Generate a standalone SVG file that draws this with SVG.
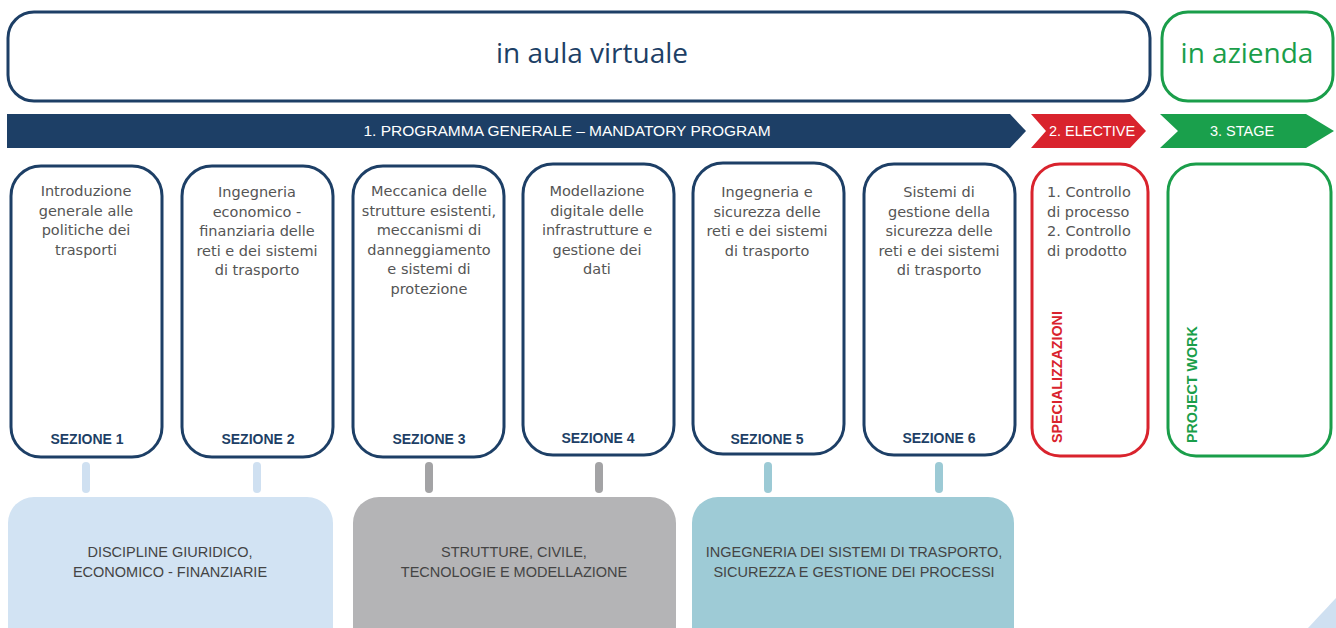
<svg xmlns="http://www.w3.org/2000/svg" width="1336" height="628" viewBox="0 0 1336 628">
<style>
.frame{fill:#fff;stroke-width:3}
.blue{stroke:#1d3f66}
.red{stroke:#d9232d}
.green{stroke:#1a9e4a}
.body{font-family:"DejaVu Sans",sans-serif;font-size:14.5px;fill:#555;text-anchor:middle}
.sez{font-family:"Liberation Sans",Arial,sans-serif;font-size:14px;font-weight:bold;fill:#1d3f66;text-anchor:middle}
.band{font-family:"Liberation Sans",Arial,sans-serif;font-size:15.5px;fill:#fff;text-anchor:middle}
.cat{font-family:"Liberation Sans",Arial,sans-serif;font-size:14.5px;fill:#444;text-anchor:middle}
.head{font-family:"Open Sans","Liberation Sans",sans-serif;font-size:28px;text-anchor:middle}
.vert{font-family:"Liberation Sans",Arial,sans-serif;font-size:14.3px;font-weight:bold}
</style>
<rect width="1336" height="628" fill="#fff"/>

<g id="aula">
<rect x="8" y="12" width="1142" height="89" rx="26" class="frame blue"/>
<text x="592" y="63" class="head" fill="#1d3f66">in aula virtuale</text>
</g>
<g id="azienda">
<rect x="1162" y="12" width="171" height="89" rx="26" class="frame green"/>
<text x="1247" y="63" class="head" fill="#1a9e4a">in azienda</text>
</g>

<g id="band-mandatory">
<polygon points="7,114 1010,114 1026,131 1010,148 7,148" fill="#1d3f66"/>
<text x="567" y="136" class="band">1. PROGRAMMA GENERALE – MANDATORY PROGRAM</text>
</g>
<g id="band-elective">
<polygon points="1031,114 1130,114 1146,131 1130,148 1031,148 1046,131" fill="#d9232d"/>
<text x="1092" y="136" class="band" style="font-size:14.5px">2. ELECTIVE</text>
</g>
<g id="band-stage">
<polygon points="1160,114 1306,114 1334,131 1306,148 1160,148 1178,131" fill="#1aa04c"/>
<text x="1242" y="136" class="band" style="font-size:14.5px">3. STAGE</text>
</g>

<g id="sez1">
<rect x="11" y="166" width="151" height="291" rx="30" class="frame blue"/>
<text class="body"><tspan x="86" y="196">Introduzione</tspan><tspan x="86" y="215.5">generale alle</tspan><tspan x="86" y="235">politiche dei</tspan><tspan x="86" y="254.5">trasporti</tspan></text>
<text x="87" y="444" class="sez">SEZIONE 1</text>
</g>
<g id="sez2">
<rect x="182" y="166" width="151" height="291" rx="30" class="frame blue"/>
<text class="body"><tspan x="257" y="197">Ingegneria</tspan><tspan x="257" y="216.5">economico -</tspan><tspan x="257" y="236">finanziaria delle</tspan><tspan x="257" y="255.5">reti e dei sistemi</tspan><tspan x="257" y="275">di trasporto</tspan></text>
<text x="258" y="444" class="sez">SEZIONE 2</text>
</g>
<g id="sez3">
<rect x="353" y="166" width="151" height="291" rx="30" class="frame blue"/>
<text class="body"><tspan x="429" y="196">Meccanica delle</tspan><tspan x="429" y="215.5">strutture esistenti,</tspan><tspan x="429" y="235">meccanismi di</tspan><tspan x="429" y="254.5">danneggiamento</tspan><tspan x="429" y="274">e sistemi di</tspan><tspan x="429" y="293.5">protezione</tspan></text>
<text x="429" y="444" class="sez">SEZIONE 3</text>
</g>
<g id="sez4">
<rect x="523" y="164" width="151" height="291" rx="30" class="frame blue"/>
<text class="body"><tspan x="597" y="196">Modellazione</tspan><tspan x="597" y="215.5">digitale delle</tspan><tspan x="597" y="235">infrastrutture e</tspan><tspan x="597" y="254.5">gestione dei</tspan><tspan x="597" y="274">dati</tspan></text>
<text x="598" y="443" class="sez">SEZIONE 4</text>
</g>
<g id="sez5">
<rect x="693" y="163" width="151" height="291" rx="30" class="frame blue"/>
<text class="body"><tspan x="767" y="197">Ingegneria e</tspan><tspan x="767" y="216.5">sicurezza delle</tspan><tspan x="767" y="236">reti e dei sistemi</tspan><tspan x="767" y="255.5">di trasporto</tspan></text>
<text x="767" y="444" class="sez">SEZIONE 5</text>
</g>
<g id="sez6">
<rect x="864" y="164" width="151" height="291" rx="30" class="frame blue"/>
<text class="body"><tspan x="939" y="197">Sistemi di</tspan><tspan x="939" y="216.5">gestione della</tspan><tspan x="939" y="236">sicurezza delle</tspan><tspan x="939" y="255.5">reti e dei sistemi</tspan><tspan x="939" y="275">di trasporto</tspan></text>
<text x="939" y="443" class="sez">SEZIONE 6</text>
</g>
<g id="specializzazioni">
<rect x="1032" y="164" width="116" height="292" rx="28" class="frame red"/>
<text class="body" style="text-anchor:start"><tspan x="1047" y="197">1. Controllo</tspan><tspan x="1047" y="216.5">di processo</tspan><tspan x="1047" y="236">2. Controllo</tspan><tspan x="1047" y="255.5">di prodotto</tspan></text>
<text transform="translate(1062,443) rotate(-90)" class="vert" fill="#d9232d">SPECIALIZZAZIONI</text>
</g>
<g id="projectwork">
<rect x="1168" y="164" width="163" height="292" rx="28" class="frame green"/>
<text transform="translate(1197,443) rotate(-90)" class="vert" fill="#1a9e4a">PROJECT WORK</text>
</g>

<g id="connectors">
<rect x="82" y="462" width="8" height="31" rx="4" fill="#cfe0f1"/>
<rect x="253" y="462" width="8" height="31" rx="4" fill="#cfe0f1"/>
<rect x="425" y="462" width="8" height="31" rx="4" fill="#a3a3a5"/>
<rect x="595" y="462" width="8" height="31" rx="4" fill="#a3a3a5"/>
<rect x="764" y="462" width="8" height="31" rx="4" fill="#9ccad5"/>
<rect x="935" y="462" width="8" height="31" rx="4" fill="#9ccad5"/>
</g>

<g id="cat-giuridico">
<rect x="8" y="497" width="325" height="160" rx="26" fill="#d2e3f3"/>
<text class="cat"><tspan x="170" y="557">DISCIPLINE GIURIDICO,</tspan><tspan x="170" y="577">ECONOMICO - FINANZIARIE</tspan></text>
</g>
<g id="cat-strutture">
<rect x="353" y="497" width="323" height="160" rx="26" fill="#b4b4b6"/>
<text class="cat"><tspan x="514" y="557">STRUTTURE, CIVILE,</tspan><tspan x="514" y="577">TECNOLOGIE E MODELLAZIONE</tspan></text>
</g>
<g id="cat-trasporto">
<rect x="692" y="497" width="322" height="160" rx="26" fill="#9ecbd6"/>
<text class="cat"><tspan x="854" y="557">INGEGNERIA DEI SISTEMI DI TRASPORTO,</tspan><tspan x="854" y="577">SICUREZZA E GESTIONE DEI PROCESSI</tspan></text>
</g>

<polygon points="1336,598 1336,628 1308,628" fill="#cfe0f1"/>
</svg>
